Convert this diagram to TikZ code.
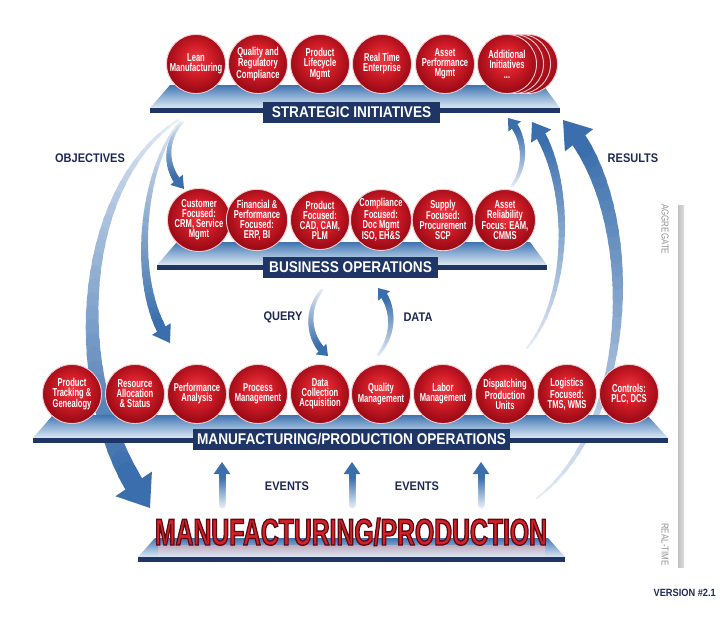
\documentclass[tikz,border=0pt]{standalone}
\usepackage{fontspec}
\setmainfont{Liberation Sans}
\newfontfamily\cf{Liberation Sans}[FakeStretch=0.66]
\newfontfamily\bigf{Liberation Sans}[FakeStretch=0.72]
\newfontfamily\lf{Liberation Sans}[FakeStretch=0.88]
\newfontfamily\gf{Liberation Sans}[FakeStretch=0.8]
\usetikzlibrary{calc}
\definecolor{rA}{HTML}{EC3A42}
\definecolor{rB}{HTML}{D01C27}
\definecolor{rC}{HTML}{9E0C17}
\definecolor{navy}{HTML}{1F3566}
\definecolor{txtnavy}{HTML}{1E2A55}
\definecolor{platT}{HTML}{3F74B0}
\definecolor{platM}{HTML}{8FB1D5}
\definecolor{platB}{HTML}{DCE7F2}
\definecolor{arrL}{HTML}{E4ECF6}
\definecolor{arrD}{HTML}{3A6EAC}
\definecolor{edge}{HTML}{F3CDD0}
\definecolor{bigred}{HTML}{D4202A}
\pgfdeclareradialshading{redball}{\pgfpoint{0bp}{5bp}}{color(0bp)=(rA); color(13bp)=(rB); color(25bp)=(rC); color(50bp)=(rC)}
\tikzset{
  ball/.style={circle, minimum size=59pt, inner sep=0pt, shade, shading=redball, draw=edge, line width=0.9pt, text=white, align=center, font=\cf\bfseries\fontsize{11.5}{10}\selectfont},
  lbox/.style={fill=navy, text=white, inner sep=0pt, minimum height=21pt, font=\lf\bfseries\fontsize{15.5}{16}\selectfont},
  sidelbl/.style={text=txtnavy, inner sep=0pt, font=\lf\bfseries\fontsize{12.5}{12}\selectfont},
  scalelbl/.style={text=gray!85, inner sep=0pt, rotate=-90, font=\gf\fontsize{10}{10}\selectfont},
}
% #1 start #2 c1 #3 c2 #4 tip #5 w0 #6 w1 #7 head-base pos #8 head half width
\newcommand\bandarrow[8]{%
  \foreach \i in {0,...,29}{%
    \pgfmathsetmacro\ta{#7*\i/30}%
    \pgfmathsetmacro\tb{#7*(\i+1)/30}%
    \pgfmathsetmacro\ww{#5+(#6-#5)*\i/29}%
    \pgfmathsetmacro\mx{100*\i/29}%
    \path #1 .. controls #2 and #3 .. #4 coordinate[pos=\ta] (sa) coordinate[pos=\tb] (sb);
    \draw[line width=\ww pt, color=arrD!\mx!arrL, line cap=round] (sa) -- (sb);
  }%
  \path #1 .. controls #2 and #3 .. #4 coordinate[pos=#7] (hb);
  \fill[arrD] ($(hb)!#8pt!90:#4$) -- #4 -- ($(hb)!#8pt!-90:#4$) -- cycle;
}
\newcommand\platf[6]{%
  \shade[top color=platT, bottom color=platB, middle color=platM] (#1,#3) -- (#2,#3) -- (#5,#6) -- (#4,#6) -- cycle;
  \fill[navy] (#4,#6) rectangle (#5,#6+5);
}
\newcommand\bigword{\resizebox{392pt}{27pt}{\bigf\bfseries\special{pdf:literal direct 2 Tr 0.36 0.04 0.07 RG 0.35 w}MANUFACTURING/PRODUCTION\special{pdf:literal direct 0 Tr}}}
\begin{document}
\begin{tikzpicture}[x=1pt,y=-1pt]
\useasboundingbox (0,0) rectangle (728,632);
\fill[white] (0,0) rectangle (728,632);

% ---------- arrow end points ----------
\coordinate (o1s) at (183,122); \coordinate (o1e) at (184,189);
\coordinate (o2s) at (180,122); \coordinate (o2e) at (170,343);
\coordinate (o3s) at (178,120); \coordinate (o3e) at (150,508);
\coordinate (r1s) at (512,186); \coordinate (r1e) at (508,118);
\coordinate (r2s) at (527,348); \coordinate (r2e) at (532,122);
\coordinate (r3s) at (537,498); \coordinate (r3e) at (563,120);
\coordinate (qs) at (322,290); \coordinate (qe) at (328,356);
\coordinate (ds) at (378,355); \coordinate (de) at (378,288);
\coordinate (e1s) at (222,505); \coordinate (e1e) at (222,462);
\coordinate (e2s) at (352,505); \coordinate (e2e) at (352,462);
\coordinate (e3s) at (481,505); \coordinate (e3e) at (481,462);

% ---------- arrows ----------
\bandarrow{(o3s)}{(72,190)}{(66,400)}{(o3e)}{2}{20}{0.93}{22}
\bandarrow{(o2s)}{(140,170)}{(130,290)}{(o2e)}{2}{10}{0.92}{11}
\bandarrow{(o1s)}{(165,140)}{(163,168)}{(o1e)}{2}{7}{0.86}{8}
\bandarrow{(r3s)}{(640,420)}{(640,200)}{(r3e)}{2}{16}{0.925}{18}
\bandarrow{(r2s)}{(575,290)}{(570,170)}{(r2e)}{2}{10}{0.913}{12}
\bandarrow{(r1s)}{(528,165)}{(525,135)}{(r1e)}{3}{7}{0.85}{8}
\bandarrow{(qs)}{(305,310)}{(308,340)}{(qe)}{3}{7}{0.87}{7.5}
\bandarrow{(ds)}{(395,335)}{(395,305)}{(de)}{3}{7}{0.86}{7.5}
\bandarrow{(e1s)}{(222,490)}{(222,477)}{(e1e)}{7}{7}{0.72}{8.5}
\bandarrow{(e2s)}{(352,490)}{(352,477)}{(e2e)}{7}{7}{0.72}{8.5}
\bandarrow{(e3s)}{(481,490)}{(481,477)}{(e3e)}{7}{7}{0.72}{8.5}

% ---------- platforms ----------
\platf{170}{543}{85}{150}{560}{108}
\platf{177}{530}{242}{157}{547}{265}
\platf{53}{647}{415}{33}{668}{438}
\platf{155}{548}{538}{138}{565}{557}

% ---------- strategic initiatives ----------
\node[ball] (s1) at (196,64) {Lean\\Manufacturing};
\node[ball] (s2) at (258,64) {Quality and\\Regulatory\\Compliance};
\node[ball] (s3) at (320,64) {Product\\Lifecycle\\Mgmt};
\node[ball] (s4) at (382,64) {Real Time\\Enterprise};
\node[ball] (s5) at (445,64) {Asset\\Performance\\Mgmt};
\node[ball] (s6c) at (528,64) {};
\node[ball] (s6b) at (521,64) {};
\node[ball] (s6a) at (514,64) {};
\node[ball] (s6) at (507,64) {Additional\\Initiatives\\...};
\node[lbox, minimum width=177pt] (si) at (351.5,112) {STRATEGIC INITIATIVES};

% ---------- business operations ----------
\node[ball] (b1) at (199,220) {Customer\\Focused:\\CRM, Service\\Mgmt};
\node[ball] (b2) at (257,220) {Financial \&\\Performance\\Focused:\\ERP, BI};
\node[ball] (b3) at (320,220) {Product\\Focused:\\CAD, CAM,\\PLM};
\node[ball] (b4) at (381,220) {Compliance\\Focused:\\Doc Mgmt\\ISO, EH\&S};
\node[ball] (b5) at (443,220) {Supply\\Focused:\\Procurement\\SCP};
\node[ball] (b6) at (505,220) {Asset\\Reliability\\Focus: EAM,\\CMMS};
\node[lbox, minimum width=175pt] (bo) at (350.5,267.5) {BUSINESS OPERATIONS};

% ---------- manufacturing / production operations ----------
\node[ball] (m1) at (72,394) {Product\\Tracking \&\\Genealogy};
\node[ball] (m2) at (135,394) {Resource\\Allocation\\\& Status};
\node[ball] (m3) at (197,394) {Performance\\Analysis};
\node[ball] (m4) at (258,394) {Process\\Management};
\node[ball] (m5) at (320,394) {Data\\Collection\\Acquisition};
\node[ball] (m6) at (381,394) {Quality\\Management};
\node[ball] (m7) at (443,394) {Labor\\Management};
\node[ball] (m8) at (505,394) {Dispatching\\Production\\Units};
\node[ball] (m9) at (567,394) {Logistics\\Focused:\\TMS, WMS};
\node[ball] (m10) at (629,394) {Controls:\\PLC, DCS};
\node[lbox, minimum width=317pt] (mo) at (351.5,439.5) {MANUFACTURING/PRODUCTION OPERATIONS};

% ---------- manufacturing / production ----------
\shade[top color=bigred!35, bottom color=platB, opacity=0.6] (158,545) rectangle (545,556);
\node[inner sep=0pt, anchor=base, text=bigred] (mp) at (351,545) {\bigword};

% ---------- labels ----------
\node[sidelbl] (obj) at (90,158) {OBJECTIVES};
\node[sidelbl] (res) at (633,158) {RESULTS};
\node[sidelbl] (qry) at (283,317) {QUERY};
\node[sidelbl] (dat) at (418,317) {DATA};
\node[sidelbl] (ev1) at (287,486) {EVENTS};
\node[sidelbl] (ev2) at (417,486) {EVENTS};
\node[sidelbl, font=\lf\bfseries\fontsize{10.5}{11}\selectfont, anchor=east] (ver) at (716,593) {VERSION \#2.1};

% ---------- right scale ----------
\shade[left color=gray!50, right color=gray!25] (678,205) rectangle (684,567);
\node[scalelbl, anchor=west] (agg) at (665,204) {AGGREGATE};
\node[scalelbl, anchor=east] (rt) at (665,566) {REAL-TIME};
\end{tikzpicture}
\end{document}
